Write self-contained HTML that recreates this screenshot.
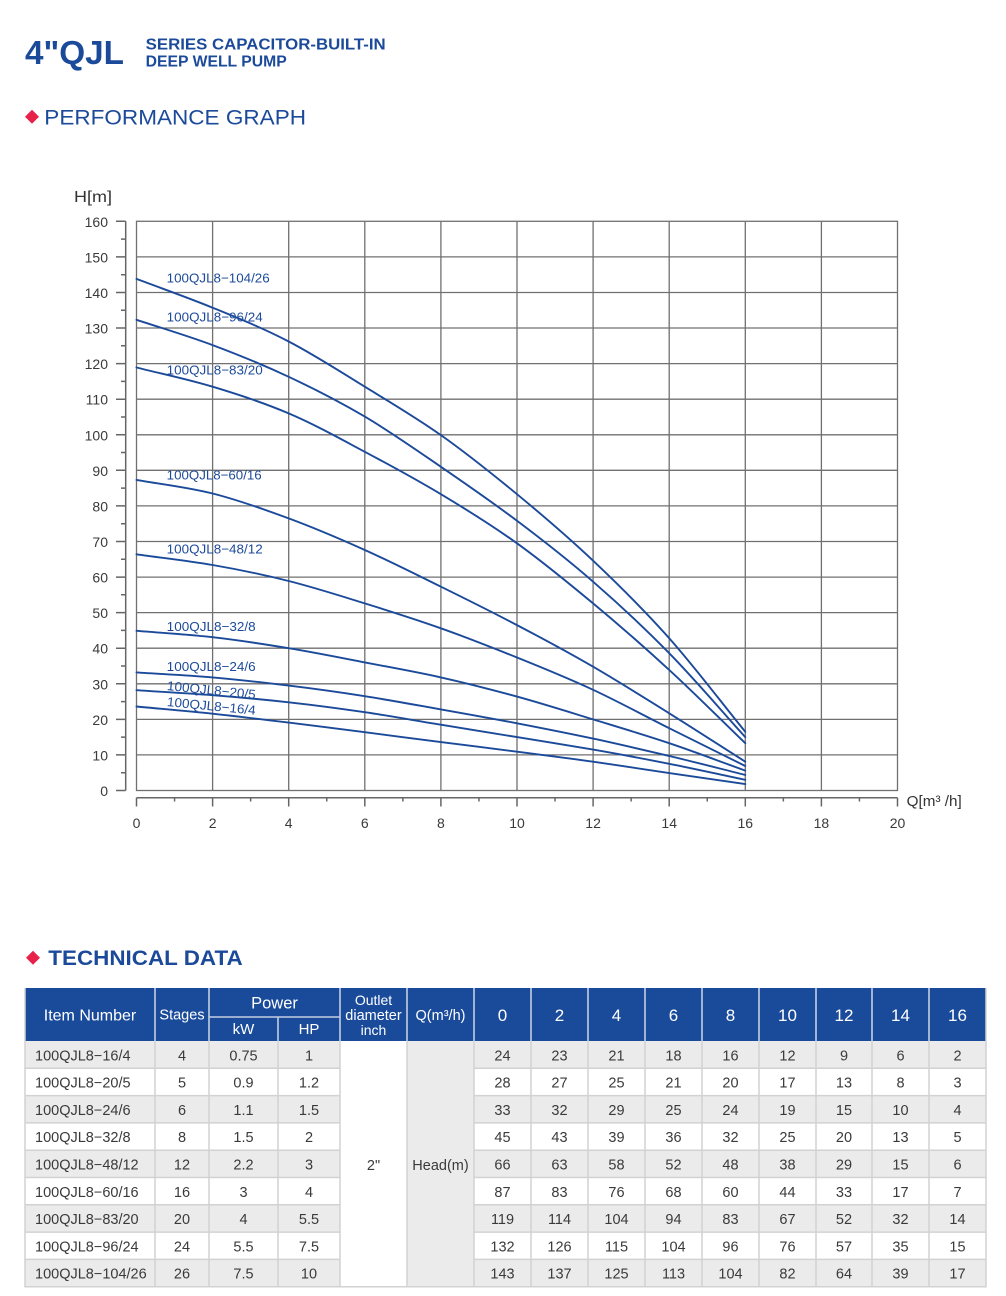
<!DOCTYPE html>
<html><head><meta charset="utf-8"><style>
html,body{margin:0;padding:0;background:#fff;}
svg{display:block;}
text{font-family:"Liberation Sans",Arial,sans-serif;}
</style></head><body>
<svg width="1006" height="1296" viewBox="0 0 1006 1296" xmlns="http://www.w3.org/2000/svg">
<rect width="1006" height="1296" fill="#fff"/>
<!-- Header -->
<text x="25" y="64" font-size="33" font-weight="bold" fill="#1c4a9a" textLength="99" lengthAdjust="spacingAndGlyphs">4"QJL</text>
<text x="145.7" y="49.3" font-size="15.5" font-weight="bold" fill="#1c4a9a" textLength="240" lengthAdjust="spacingAndGlyphs">SERIES CAPACITOR-BUILT-IN</text>
<text x="145.7" y="66.7" font-size="15.5" font-weight="bold" fill="#1c4a9a" textLength="141" lengthAdjust="spacingAndGlyphs">DEEP WELL PUMP</text>
<polygon points="25,116.7 32,109.7 39,116.7 32,123.7" fill="#e8214a"/>
<text x="44.3" y="124.3" font-size="21" fill="#1c4a9a" textLength="261.7" lengthAdjust="spacingAndGlyphs">PERFORMANCE GRAPH</text>

<!-- Chart grid -->
<g stroke="#707070" stroke-width="1.3" fill="none">
<rect x="136.5" y="221.3" width="761" height="569.2"/>
<path d="M136.5,754.9H897.5M136.5,719.4H897.5M136.5,683.8H897.5M136.5,648.2H897.5M136.5,612.6H897.5M136.5,577.1H897.5M136.5,541.5H897.5M136.5,505.9H897.5M136.5,470.3H897.5M136.5,434.8H897.5M136.5,399.2H897.5M136.5,363.6H897.5M136.5,328H897.5M136.5,292.5H897.5M136.5,256.9H897.5"/>
<path d="M212.6,221.3V790.5M288.7,221.3V790.5M364.8,221.3V790.5M440.9,221.3V790.5M517,221.3V790.5M593.1,221.3V790.5M669.2,221.3V790.5M745.3,221.3V790.5M821.4,221.3V790.5"/>
</g>
<!-- Axes -->
<g stroke="#666" stroke-width="1.5" fill="none">
<path d="M125.7,221.3V790.5"/>
<path d="M116,790.5H125.7M116,754.9H125.7M116,719.4H125.7M116,683.8H125.7M116,648.2H125.7M116,612.6H125.7M116,577.1H125.7M116,541.5H125.7M116,505.9H125.7M116,470.3H125.7M116,434.8H125.7M116,399.2H125.7M116,363.6H125.7M116,328H125.7M116,292.5H125.7M116,256.9H125.7M116,221.3H125.7"/>
<path d="M121,772.7H125.7M121,737.1H125.7M121,701.6H125.7M121,666H125.7M121,630.4H125.7M121,594.8H125.7M121,559.3H125.7M121,523.7H125.7M121,488.1H125.7M121,452.5H125.7M121,417H125.7M121,381.4H125.7M121,345.8H125.7M121,310.2H125.7M121,274.7H125.7M121,239.1H125.7"/>
<path d="M136.5,797.7H897.5"/>
<path d="M136.5,797.7V806.5M212.6,797.7V806.5M288.7,797.7V806.5M364.8,797.7V806.5M440.9,797.7V806.5M517,797.7V806.5M593.1,797.7V806.5M669.2,797.7V806.5M745.3,797.7V806.5M821.4,797.7V806.5M897.5,797.7V806.5"/>
<path d="M174.55,797.7V801.5M250.65,797.7V801.5M326.75,797.7V801.5M402.85,797.7V801.5M478.95,797.7V801.5M555.05,797.7V801.5M631.15,797.7V801.5M707.25,797.7V801.5M783.35,797.7V801.5M859.45,797.7V801.5"/>
</g>
<!-- Axis labels -->
<g font-size="14" fill="#3a3a3a" text-anchor="end">
<text x="108" y="796">0</text><text x="108" y="760.4">10</text><text x="108" y="724.9">20</text><text x="108" y="689.3">30</text><text x="108" y="653.7">40</text><text x="108" y="618.1">50</text><text x="108" y="582.6">60</text><text x="108" y="547">70</text><text x="108" y="511.4">80</text><text x="108" y="475.8">90</text><text x="108" y="440.3">100</text><text x="108" y="404.7">110</text><text x="108" y="369.1">120</text><text x="108" y="333.5">130</text><text x="108" y="298">140</text><text x="108" y="262.4">150</text><text x="108" y="226.8">160</text>
</g>
<g font-size="14" fill="#3a3a3a" text-anchor="middle">
<text x="136.5" y="828">0</text><text x="212.6" y="828">2</text><text x="288.7" y="828">4</text><text x="364.8" y="828">6</text><text x="440.9" y="828">8</text><text x="517" y="828">10</text><text x="593.1" y="828">12</text><text x="669.2" y="828">14</text><text x="745.3" y="828">16</text><text x="821.4" y="828">18</text><text x="897.5" y="828">20</text>
</g>
<text x="74" y="202" font-size="15.5" fill="#333" textLength="38" lengthAdjust="spacingAndGlyphs">H[m]</text>
<text x="906.7" y="806" font-size="15" fill="#333" textLength="55" lengthAdjust="spacingAndGlyphs">Q[m³ /h]</text>

<!-- Curves -->
<g stroke="#1c4a9a" stroke-width="1.9" fill="none" stroke-linecap="round">
<path d="M136.5,278.9 C161.9,288.5 187.2,297.3 212.6,307.7 S263.3,328.3 288.7,341.5 S339.4,371.1 364.8,386.7 S415.5,417.2 440.9,435.1 S491.6,473.3 517,494.2 S567.7,536.7 593.1,560.7 S643.8,609.7 669.2,638.2 S719.9,700.6 745.3,731.8"/>
<path d="M136.5,319.8 C161.9,328.2 187.2,335.6 212.6,345.1 S263.3,364.9 288.7,376.8 S339.4,401.6 364.8,416.6 S415.5,449.4 440.9,466.8 S491.6,501.7 517,520.8 S567.7,559.6 593.1,581.7 S643.8,627.3 669.2,653.2 S719.9,709.1 745.3,737.1"/>
<path d="M136.5,367.5 C161.9,373.9 187.2,379.1 212.6,386.7 S263.3,402.6 288.7,413.4 S339.4,438.3 364.8,451.8 S415.5,479 440.9,494.2 S491.6,525.1 517,543.3 S567.7,582.3 593.1,603.4 S643.8,646.6 669.2,669.9 S719.9,718.8 745.3,743.2"/>
<path d="M136.5,479.9 C161.9,484.4 187.2,487.1 212.6,493.5 S263.3,509 288.7,518.4 S339.4,538.6 364.8,550 S415.5,574.2 440.9,586.7 S491.6,611.8 517,625.1 S567.7,652 593.1,666.7 S643.8,697.5 669.2,713.3 S719.9,745.6 745.3,761.7"/>
<path d="M136.5,554.3 C161.9,557.9 187.2,560.6 212.6,565 S263.3,574.6 288.7,581 S339.4,595.5 364.8,603.4 S415.5,619.3 440.9,628.3 S491.6,647.3 517,657.5 S567.7,678 593.1,689.8 S643.8,715.5 669.2,728.2 S719.9,753.4 745.3,766"/>
<path d="M136.5,630.8 C161.9,632.9 187.2,634.3 212.6,637.2 S263.3,644 288.7,648.2 S339.4,657.5 364.8,662.4 S415.5,671.7 440.9,677.4 S491.6,689.6 517,696.6 S567.7,711.6 593.1,719.4 S643.8,734.7 669.2,743.2 S719.9,761.5 745.3,770.6"/>
<path d="M136.5,672.4 C161.9,674.1 187.2,675.2 212.6,677.4 S263.3,682.5 288.7,685.6 S339.4,692.2 364.8,696.2 S415.5,704.9 440.9,709.4 S491.6,718.4 517,723.3 S567.7,733.2 593.1,738.6 S643.8,750 669.2,756 S719.9,768.6 745.3,774.9"/>
<path d="M136.5,690.2 C161.9,691.9 187.2,693.2 212.6,695.2 S263.3,699.5 288.7,702.3 S339.4,708.5 364.8,712.2 S415.5,720.6 440.9,724.7 S491.6,733 517,737.1 S567.7,745.2 593.1,749.6 S643.8,758.8 669.2,763.8 S719.9,774.5 745.3,779.8"/>
<path d="M136.5,706.5 C161.9,708.9 187.2,711 212.6,713.7 S263.3,719.5 288.7,722.6 S339.4,729 364.8,732.2 S415.5,738.9 440.9,742.1 S491.6,748.4 517,751.7 S567.7,758.1 593.1,761.7 S643.8,769.4 669.2,773.1 S719.9,780.4 745.3,784.1"/>
</g>
<!-- Curve labels -->
<g font-size="13" fill="#1c4a9a">
<text x="166.7" y="282.7" textLength="103" lengthAdjust="spacingAndGlyphs">100QJL8−104/26</text>
<text x="166.7" y="321.7" textLength="96" lengthAdjust="spacingAndGlyphs">100QJL8−96/24</text>
<text x="166.7" y="374.3" textLength="96" lengthAdjust="spacingAndGlyphs">100QJL8−83/20</text>
<text x="166.7" y="479.3" textLength="95" lengthAdjust="spacingAndGlyphs">100QJL8−60/16</text>
<text x="166.7" y="553.7" textLength="96" lengthAdjust="spacingAndGlyphs">100QJL8−48/12</text>
<text x="166.7" y="631" textLength="89" lengthAdjust="spacingAndGlyphs">100QJL8−32/8</text>
<text x="166.7" y="671" textLength="89" lengthAdjust="spacingAndGlyphs">100QJL8−24/6</text>
<text x="166.7" y="690" textLength="89" lengthAdjust="spacingAndGlyphs" transform="rotate(5.8 166.7 690)">100QJL8−20/5</text>
<text x="166.7" y="706" textLength="89" lengthAdjust="spacingAndGlyphs" transform="rotate(5.6 166.7 706)">100QJL8−16/4</text>
</g>

<!-- Technical data heading -->
<polygon points="26,957.7 33,950.7 40,957.7 33,964.7" fill="#e8214a"/>
<text x="48.3" y="965" font-size="21" font-weight="bold" fill="#1c4a9a" textLength="194.4" lengthAdjust="spacingAndGlyphs">TECHNICAL DATA</text>

<!-- Table header -->
<rect x="25" y="988" width="961" height="53" fill="#1a4b9b"/>
<g stroke="#c4cee2" stroke-width="1.6">
<path d="M155,988V1041M209,988V1041M278,1017V1041M340,988V1041M407,988V1041M474,988V1041M531,988V1041M588,988V1041M645,988V1041M702,988V1041M759,988V1041M816,988V1041M872,988V1041M929,988V1041M209,1017H340"/>
</g>
<g fill="#fff" text-anchor="middle">
<text x="90" y="1020.5" font-size="16">Item Number</text>
<text x="182" y="1019.5" font-size="14.5">Stages</text>
<text x="274.5" y="1008.3" font-size="16.5">Power</text>
<text x="243.5" y="1034" font-size="15">kW</text>
<text x="309" y="1034" font-size="15">HP</text>
<text x="373.5" y="1005" font-size="14">Outlet</text>
<text x="373.5" y="1020" font-size="14.5">diameter</text>
<text x="373.5" y="1035" font-size="14">inch</text>
<text x="440.5" y="1020" font-size="14.5">Q(m³/h)</text>
<text x="502.5" y="1021" font-size="17">0</text>
<text x="559.5" y="1021" font-size="17">2</text>
<text x="616.5" y="1021" font-size="17">4</text>
<text x="673.5" y="1021" font-size="17">6</text>
<text x="730.5" y="1021" font-size="17">8</text>
<text x="787.5" y="1021" font-size="17">10</text>
<text x="844" y="1021" font-size="17">12</text>
<text x="900.5" y="1021" font-size="17">14</text>
<text x="957.5" y="1021" font-size="17">16</text>
</g>

<!-- Table body -->
<g fill="#ebebeb">
<rect x="25" y="1041" width="961" height="27.3"/>
<rect x="25" y="1095.6" width="961" height="27.3"/>
<rect x="25" y="1150.2" width="961" height="27.3"/>
<rect x="25" y="1204.8" width="961" height="27.3"/>
<rect x="25" y="1259.4" width="961" height="27.3"/>
</g>
<rect x="340" y="1041" width="67" height="245.7" fill="#fff"/>
<rect x="407" y="1041" width="67" height="245.7" fill="#ebebeb"/>
<g stroke="#d2d2d2" stroke-width="1.5" fill="none">
<path d="M25,1068.3H340M474,1068.3H986M25,1095.6H340M474,1095.6H986M25,1122.9H340M474,1122.9H986M25,1150.2H340M474,1150.2H986M25,1177.5H340M474,1177.5H986M25,1204.8H340M474,1204.8H986M25,1232.1H340M474,1232.1H986M25,1259.4H340M474,1259.4H986"/>
<path d="M155,1041V1286.7M209,1041V1286.7M278,1041V1286.7M340,1041V1286.7M407,1041V1286.7M474,1041V1286.7M531,1041V1286.7M588,1041V1286.7M645,1041V1286.7M702,1041V1286.7M759,1041V1286.7M816,1041V1286.7M872,1041V1286.7M929,1041V1286.7"/>
<path d="M25,988V1286.7H986V988"/>
</g>
<g font-size="14.5" fill="#3a3a3a">
<text x="35" y="1060.3">100QJL8−16/4</text>
<text x="35" y="1087.6">100QJL8−20/5</text>
<text x="35" y="1114.9">100QJL8−24/6</text>
<text x="35" y="1142.2">100QJL8−32/8</text>
<text x="35" y="1169.5">100QJL8−48/12</text>
<text x="35" y="1196.8">100QJL8−60/16</text>
<text x="35" y="1224.1">100QJL8−83/20</text>
<text x="35" y="1251.4">100QJL8−96/24</text>
<text x="35" y="1278.7">100QJL8−104/26</text>
</g>
<g font-size="14.5" fill="#3a3a3a" text-anchor="middle">
<text x="373.5" y="1170">2"</text>
<text x="440.5" y="1170">Head(m)</text>
<!-- row 1 -->
<text x="182" y="1060.3">4</text><text x="243.5" y="1060.3">0.75</text><text x="309" y="1060.3">1</text>
<text x="502.5" y="1060.3">24</text><text x="559.5" y="1060.3">23</text><text x="616.5" y="1060.3">21</text><text x="673.5" y="1060.3">18</text><text x="730.5" y="1060.3">16</text><text x="787.5" y="1060.3">12</text><text x="844" y="1060.3">9</text><text x="900.5" y="1060.3">6</text><text x="957.5" y="1060.3">2</text>
<!-- row 2 -->
<text x="182" y="1087.6">5</text><text x="243.5" y="1087.6">0.9</text><text x="309" y="1087.6">1.2</text>
<text x="502.5" y="1087.6">28</text><text x="559.5" y="1087.6">27</text><text x="616.5" y="1087.6">25</text><text x="673.5" y="1087.6">21</text><text x="730.5" y="1087.6">20</text><text x="787.5" y="1087.6">17</text><text x="844" y="1087.6">13</text><text x="900.5" y="1087.6">8</text><text x="957.5" y="1087.6">3</text>
<!-- row 3 -->
<text x="182" y="1114.9">6</text><text x="243.5" y="1114.9">1.1</text><text x="309" y="1114.9">1.5</text>
<text x="502.5" y="1114.9">33</text><text x="559.5" y="1114.9">32</text><text x="616.5" y="1114.9">29</text><text x="673.5" y="1114.9">25</text><text x="730.5" y="1114.9">24</text><text x="787.5" y="1114.9">19</text><text x="844" y="1114.9">15</text><text x="900.5" y="1114.9">10</text><text x="957.5" y="1114.9">4</text>
<!-- row 4 -->
<text x="182" y="1142.2">8</text><text x="243.5" y="1142.2">1.5</text><text x="309" y="1142.2">2</text>
<text x="502.5" y="1142.2">45</text><text x="559.5" y="1142.2">43</text><text x="616.5" y="1142.2">39</text><text x="673.5" y="1142.2">36</text><text x="730.5" y="1142.2">32</text><text x="787.5" y="1142.2">25</text><text x="844" y="1142.2">20</text><text x="900.5" y="1142.2">13</text><text x="957.5" y="1142.2">5</text>
<!-- row 5 -->
<text x="182" y="1169.5">12</text><text x="243.5" y="1169.5">2.2</text><text x="309" y="1169.5">3</text>
<text x="502.5" y="1169.5">66</text><text x="559.5" y="1169.5">63</text><text x="616.5" y="1169.5">58</text><text x="673.5" y="1169.5">52</text><text x="730.5" y="1169.5">48</text><text x="787.5" y="1169.5">38</text><text x="844" y="1169.5">29</text><text x="900.5" y="1169.5">15</text><text x="957.5" y="1169.5">6</text>
<!-- row 6 -->
<text x="182" y="1196.8">16</text><text x="243.5" y="1196.8">3</text><text x="309" y="1196.8">4</text>
<text x="502.5" y="1196.8">87</text><text x="559.5" y="1196.8">83</text><text x="616.5" y="1196.8">76</text><text x="673.5" y="1196.8">68</text><text x="730.5" y="1196.8">60</text><text x="787.5" y="1196.8">44</text><text x="844" y="1196.8">33</text><text x="900.5" y="1196.8">17</text><text x="957.5" y="1196.8">7</text>
<!-- row 7 -->
<text x="182" y="1224.1">20</text><text x="243.5" y="1224.1">4</text><text x="309" y="1224.1">5.5</text>
<text x="502.5" y="1224.1">119</text><text x="559.5" y="1224.1">114</text><text x="616.5" y="1224.1">104</text><text x="673.5" y="1224.1">94</text><text x="730.5" y="1224.1">83</text><text x="787.5" y="1224.1">67</text><text x="844" y="1224.1">52</text><text x="900.5" y="1224.1">32</text><text x="957.5" y="1224.1">14</text>
<!-- row 8 -->
<text x="182" y="1251.4">24</text><text x="243.5" y="1251.4">5.5</text><text x="309" y="1251.4">7.5</text>
<text x="502.5" y="1251.4">132</text><text x="559.5" y="1251.4">126</text><text x="616.5" y="1251.4">115</text><text x="673.5" y="1251.4">104</text><text x="730.5" y="1251.4">96</text><text x="787.5" y="1251.4">76</text><text x="844" y="1251.4">57</text><text x="900.5" y="1251.4">35</text><text x="957.5" y="1251.4">15</text>
<!-- row 9 -->
<text x="182" y="1278.7">26</text><text x="243.5" y="1278.7">7.5</text><text x="309" y="1278.7">10</text>
<text x="502.5" y="1278.7">143</text><text x="559.5" y="1278.7">137</text><text x="616.5" y="1278.7">125</text><text x="673.5" y="1278.7">113</text><text x="730.5" y="1278.7">104</text><text x="787.5" y="1278.7">82</text><text x="844" y="1278.7">64</text><text x="900.5" y="1278.7">39</text><text x="957.5" y="1278.7">17</text>
</g>
</svg>
</body></html>
